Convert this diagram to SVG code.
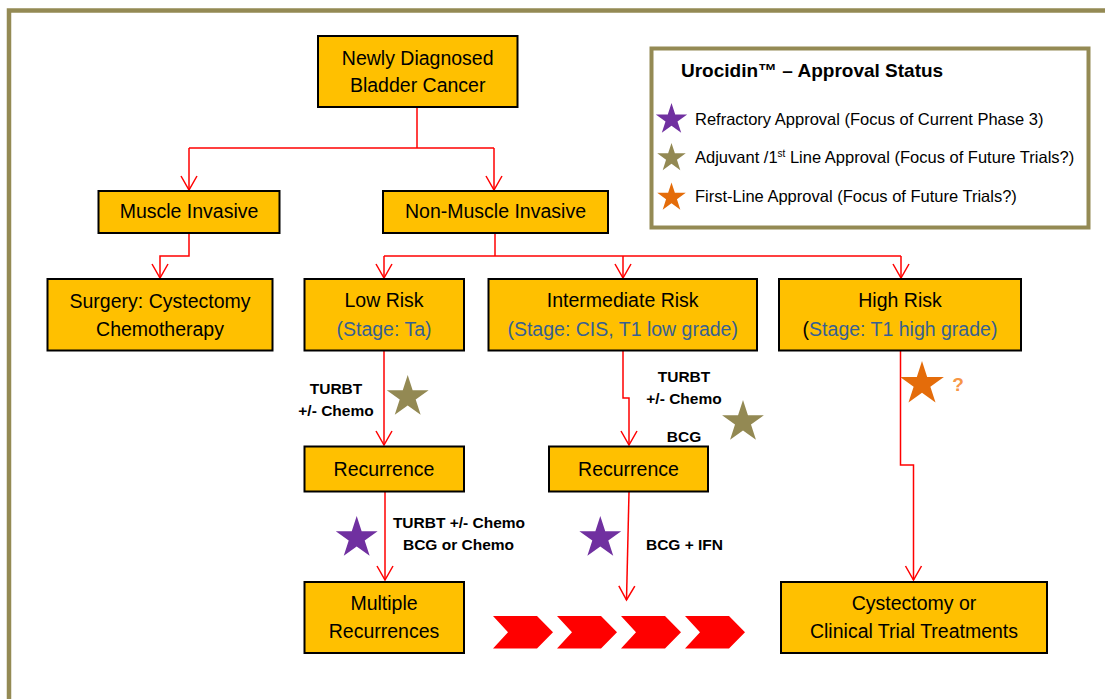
<svg xmlns="http://www.w3.org/2000/svg" xmlns:xlink="http://www.w3.org/1999/xlink" width="1105" height="699" viewBox="0 0 1105 699">
<style>
.box{fill:#FFC000;stroke:#000;stroke-width:2}
.t{font-family:"Liberation Sans",Arial,sans-serif;font-size:19.5px;fill:#000;text-anchor:middle}
.st{fill:#376092}
.lb{font-family:"Liberation Sans",Arial,sans-serif;font-size:15.5px;font-weight:bold;fill:#000;text-anchor:middle}
.lg{font-family:"Liberation Sans",Arial,sans-serif;font-size:16.5px;fill:#000}
.con{fill:none;stroke:#FF0000;stroke-width:1.5}
</style>
<defs>
<marker id="arr" markerWidth="20" markerHeight="20" refX="15" refY="10" orient="auto" markerUnits="userSpaceOnUse">
<path d="M1,2 L15,10 L1,18" fill="none" stroke="#FF0000" stroke-width="1.5"/>
</marker>
<path id="star" d="M0,-10 L2.245,-3.09 L9.511,-3.09 L3.633,1.18 L5.878,8.09 L0,3.82 L-5.878,8.09 L-3.633,1.18 L-9.511,-3.09 L-2.245,-3.09 Z"/>
<path id="chev" d="M0,0 L44,0 L60,16.3 L44,32.5 L0,32.5 L15,16.3 Z" fill="#FF0000"/>
</defs>
<rect width="1105" height="699" fill="#FFFFFF"/>
<rect x="9" y="10.5" width="1120" height="720" fill="none" stroke="#948A54" stroke-width="4.5"/>

<g id="connectors">
<path class="con" d="M417,107 V148"/>
<path class="con" d="M189,148 H494"/>
<path class="con" d="M189,148 V190" marker-end="url(#arr)"/>
<path class="con" d="M494,148 V190" marker-end="url(#arr)"/>
<path class="con" d="M189,233 V256 H160 V278" marker-end="url(#arr)"/>
<path class="con" d="M495,233 V256"/>
<path class="con" d="M384,256 H901"/>
<path class="con" d="M384,256 V278" marker-end="url(#arr)"/>
<path class="con" d="M623,256 V278" marker-end="url(#arr)"/>
<path class="con" d="M901,256 V278" marker-end="url(#arr)"/>
<path class="con" d="M384,350 V445" marker-end="url(#arr)"/>
<path class="con" d="M623,350 V398 H629 V445" marker-end="url(#arr)"/>
<path class="con" d="M900.5,350 V465 H913.5 V580" marker-end="url(#arr)"/>
<path class="con" d="M385,492 V580" marker-end="url(#arr)"/>
<path class="con" d="M629,492 L626.5,600" marker-end="url(#arr)"/>
</g>

<g id="n-newly"><rect class="box" x="318" y="36" width="199.5" height="71"/><text class="t" x="417.7" y="65">Newly Diagnosed</text><text class="t" x="417.7" y="92">Bladder Cancer</text></g>
<g id="n-muscle"><rect class="box" x="98.5" y="191" width="181" height="42"/><text class="t" x="189" y="218">Muscle Invasive</text></g>
<g id="n-nmi"><rect class="box" x="383" y="191" width="225" height="42"/><text class="t" x="495.5" y="218">Non-Muscle Invasive</text></g>
<g id="n-surgery"><rect class="box" x="47.5" y="279" width="225" height="71.5"/><text class="t" x="160" y="308">Surgery: Cystectomy</text><text class="t" x="160" y="336">Chemotherapy</text></g>
<g id="n-low"><rect class="box" x="304.5" y="279" width="159.5" height="71.5"/><text class="t" x="384" y="307">Low Risk</text><text class="t st" x="384" y="336">(Stage: Ta)</text></g>
<g id="n-int"><rect class="box" x="488.5" y="279" width="268.5" height="71.5"/><text class="t" x="622.7" y="307">Intermediate Risk</text><text class="t st" x="622.7" y="336">(Stage: CIS, T1  low grade)</text></g>
<g id="n-high"><rect class="box" x="779" y="279" width="242" height="71.5"/><text class="t" x="900" y="307">High Risk</text><text class="t" x="900" y="336"><tspan>(</tspan><tspan class="st">Stage: T1  high grade)</tspan></text></g>
<g id="n-rec1"><rect class="box" x="304.5" y="446.5" width="159.5" height="45"/><text class="t" x="384" y="476">Recurrence</text></g>
<g id="n-rec2"><rect class="box" x="549" y="446.5" width="159" height="45"/><text class="t" x="628.5" y="476">Recurrence</text></g>
<g id="n-multi"><rect class="box" x="304.5" y="582" width="159.5" height="71"/><text class="t" x="384" y="610">Multiple</text><text class="t" x="384" y="637.5">Recurrences</text></g>
<g id="n-cyst"><rect class="box" x="781" y="582" width="266" height="71"/><text class="t" x="914" y="610">Cystectomy or</text><text class="t" x="914" y="637.5">Clinical Trial  Treatments</text></g>

<g id="labels">
<text class="lb" x="336" y="394">TURBT</text>
<text class="lb" x="336" y="416">+/- Chemo</text>
<text class="lb" x="684" y="382">TURBT</text>
<text class="lb" x="684" y="403.5">+/- Chemo</text>
<text class="lb" x="684" y="442">BCG</text>
<text class="lb" x="459" y="528">TURBT  +/- Chemo</text>
<text class="lb" x="458.5" y="550">BCG or Chemo</text>
<text class="lb" x="684.5" y="550">BCG + IFN</text>
<text x="958" y="391" style="font-family:'Liberation Sans',Arial,sans-serif;font-size:19px;font-weight:bold;fill:#F79646;text-anchor:middle">?</text>
</g>

<g id="stars">
<use xlink:href="#star" fill="#938953" transform="translate(407.7,397) scale(2.2)"/>
<use xlink:href="#star" fill="#938953" transform="translate(743,422) scale(2.2)"/>
<use xlink:href="#star" fill="#E46C0A" transform="translate(922,384) scale(2.3)"/>
<use xlink:href="#star" fill="#7030A0" transform="translate(356.7,538) scale(2.2)"/>
<use xlink:href="#star" fill="#7030A0" transform="translate(600.3,538) scale(2.2)"/>
</g>

<g id="chevrons">
<use xlink:href="#chev" transform="translate(493,616)"/>
<use xlink:href="#chev" transform="translate(557,616)"/>
<use xlink:href="#chev" transform="translate(621,616)"/>
<use xlink:href="#chev" transform="translate(685,616)"/>
</g>

<g id="legend">
<rect x="651.5" y="48.5" width="437" height="179" fill="#FFFFFF" stroke="#948A54" stroke-width="4"/>
<text x="681" y="77" style="font-family:'Liberation Sans',Arial,sans-serif;font-size:19px;font-weight:bold;fill:#000">Urocidin™ – Approval  Status</text>
<use xlink:href="#star" fill="#7030A0" transform="translate(671.5,119.5) scale(1.65)"/>
<use xlink:href="#star" fill="#938953" transform="translate(671.5,158) scale(1.5)"/>
<use xlink:href="#star" fill="#E46C0A" transform="translate(671.5,197.5) scale(1.5)"/>
<text class="lg" x="695" y="125">Refractory Approval (Focus of Current Phase 3)</text>
<text class="lg" x="695" y="163">Adjuvant /1<tspan font-size="10" dy="-6">st</tspan><tspan dy="6"> Line Approval (Focus of Future Trials?)</tspan></text>
<text class="lg" x="695" y="201.5">First-Line Approval (Focus of Future Trials?)</text>
</g>
</svg>
